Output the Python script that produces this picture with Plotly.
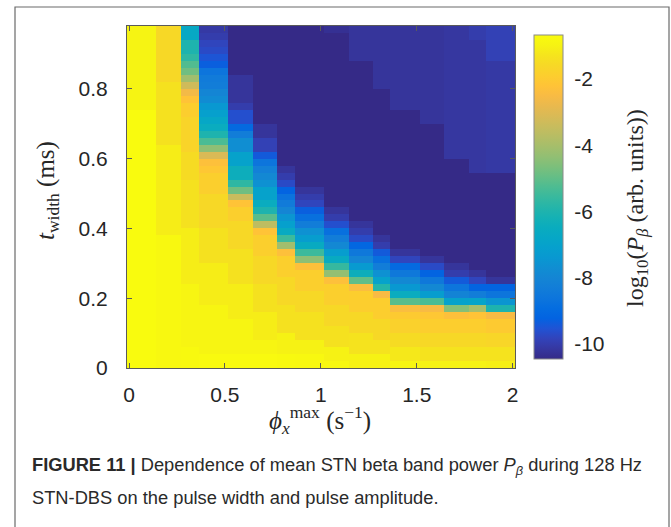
import plotly.graph_objects as go

# ---------------- data ----------------
# column edges of the grid (phi_x^max, s^-1) as drawn
phi_edges = [-0.0105, 0.143, 0.270, 0.364, 0.517, 0.645, 0.770, 0.866, 1.017,
             1.145, 1.270, 1.362, 1.519, 1.641, 1.772, 1.863, 2.012]
# row edges of the grid (t_width, ms)
twidth_edges = [round(0.02 * i, 2) for i in range(50)]

# log10(P_beta) per column, run-length encoded (rows, value), from top row to bottom row
c01 = [(12, -0.95), (37, -0.68)]
c02 = [(8, -1.6), (9, -1.35), (13, -1.1), (19, -0.8)]
c03 = [(2, -6.7), (2, -6.0), (1, -5.7), (1, -5.2), (1, -4.8), (1, -4.1), (1, -3.3), (1, -2.6),
       (1, -2.2), (2, -1.9), (5, -1.7), (4, -1.5), (7, -1.35), (8, -1.1), (9, -0.9), (3, -0.75)]
c04 = [(1, -10.1), (1, -10.0), (1, -9.8), (1, -9.7), (1, -9.5), (1, -9.3), (1, -8.6), (1, -8.4),
       (1, -8.3), (1, -8.0), (1, -7.8), (1, -7.4), (1, -7.1), (1, -6.8), (1, -6.5), (1, -6.0),
       (1, -5.3), (1, -4.4), (1, -3.1), (1, -2.3), (1, -2.1), (3, -1.85), (5, -1.6), (5, -1.35),
       (6, -1.1), (7, -0.9), (2, -0.72)]
c05 = [(7, -10.45), (4, -10.2), (1, -10.0), (2, -9.6), (1, -9.0), (1, -8.3), (2, -7.7), (2, -7.0),
       (2, -6.4), (1, -5.7), (1, -4.8), (1, -3.4), (1, -2.2), (2, -1.85), (4, -1.6), (5, -1.35),
       (5, -1.1), (5, -0.9), (2, -0.72)]
c06 = [(14, -10.45), (2, -10.2), (2, -9.9), (1, -9.4), (1, -8.6), (1, -8.2), (1, -7.9), (1, -7.6),
       (2, -7.0), (1, -6.5), (1, -6.0), (1, -5.1), (1, -3.6), (1, -2.2), (3, -1.85), (4, -1.6),
       (4, -1.35), (4, -1.1), (2, -0.9), (2, -0.72)]
c07 = [(20, -10.45), (1, -10.2), (1, -10.0), (1, -9.7), (1, -9.2), (1, -8.7), (1, -8.4), (1, -8.0),
       (1, -7.5), (1, -7.1), (1, -6.6), (1, -5.5), (1, -4.1), (1, -2.3), (3, -1.85), (4, -1.6),
       (4, -1.35), (3, -1.0), (2, -0.75)]
c08 = [(23, -10.45), (1, -10.2), (1, -10.0), (1, -9.8), (1, -9.3), (1, -8.8), (1, -8.3), (1, -7.6),
       (1, -7.2), (1, -6.6), (1, -5.5), (1, -4.4), (1, -2.3), (3, -1.85), (3, -1.6), (4, -1.35),
       (2, -1.0), (2, -0.78)]
c09 = [(1, -10.3), (25, -10.45), (1, -10.2), (1, -10.0), (1, -9.6), (1, -8.8), (1, -8.3), (1, -7.9),
       (1, -7.2), (1, -6.6), (1, -5.6), (1, -4.3), (1, -2.3), (3, -1.85), (3, -1.6), (3, -1.35),
       (2, -1.0), (1, -0.8)]
c10 = [(5, -10.2), (23, -10.45), (1, -10.2), (1, -10.0), (1, -9.7), (1, -9.1), (1, -8.5), (1, -8.0),
       (1, -7.3), (1, -6.4), (1, -5.0), (1, -2.4), (3, -1.9), (3, -1.6), (3, -1.3), (2, -1.0)]
c11 = [(9, -10.2), (21, -10.45), (1, -10.2), (1, -10.0), (1, -9.4), (1, -8.8), (1, -8.3), (1, -7.6),
       (1, -7.0), (1, -5.9), (1, -2.5), (3, -1.9), (3, -1.6), (2, -1.3), (2, -1.0)]
c12 = [(12, -10.2), (20, -10.45), (1, -10.2), (1, -9.8), (1, -9.0), (1, -8.5), (1, -7.9), (1, -7.4),
       (1, -6.5), (1, -5.1), (1, -2.4), (1, -2.0), (2, -1.8), (2, -1.5), (2, -1.2), (1, -0.9)]
c13 = [(14, -10.2), (19, -10.45), (1, -10.2), (1, -9.7), (1, -9.2), (1, -8.5), (1, -7.9), (1, -7.2),
       (1, -5.3), (1, -2.5), (1, -2.1), (2, -1.9), (2, -1.6), (2, -1.3), (1, -1.0)]
c14 = [(19, -10.15), (15, -10.45), (1, -10.2), (1, -10.0), (1, -9.4), (1, -8.6), (1, -8.1), (1, -7.0),
       (1, -4.5), (1, -2.3), (2, -1.9), (2, -1.6), (2, -1.3), (1, -1.0)]
c15 = [(2, -10.0), (19, -10.15), (14, -10.45), (1, -10.2), (1, -9.8), (1, -9.2), (1, -8.3), (1, -6.9),
       (1, -4.0), (1, -2.2), (2, -1.9), (2, -1.6), (2, -1.3), (1, -1.0)]
c16 = [(5, -9.9), (16, -10.1), (15, -10.45), (1, -10.2), (1, -9.2), (1, -8.6), (1, -7.5), (1, -6.0),
       (1, -2.5), (2, -2.0), (2, -1.65), (2, -1.3), (1, -1.05)]

x_ticks = [0, 0.5, 1, 1.5, 2]
x_ticktext = ["0", "0.5", "1", "1.5", "2"]
y_ticks = [0, 0.2, 0.4, 0.6, 0.8]
y_ticktext = ["0", "0.2", "0.4", "0.6", "0.8"]
cb_ticks = [-10, -8, -6, -4, -2]
cb_ticktext = ["-10", "-8", "-6", "-4", "-2"]
c_min, c_max = -10.45, -0.67

# ---------------- build grid ----------------
columns = [c01, c02, c03, c04, c05, c06, c07, c08, c09, c10, c11, c12, c13, c14, c15, c16]
nrows = len(twidth_edges) - 1


def expand(runs):
    vals = []
    for n, v in runs:
        vals += [v] * n
    assert len(vals) == nrows, len(vals)
    return vals[::-1]  # bottom -> top


cols = [expand(c) for c in columns]
z = [[cols[j][i] for j in range(len(cols))] for i in range(nrows)]

parula = [
    (0.2081, 0.1663, 0.5292), (0.2123, 0.2138, 0.6270), (0.1959, 0.2645, 0.7279),
    (0.1253, 0.3242, 0.8303), (0.0117, 0.3875, 0.8820), (0.0165, 0.4266, 0.8786),
    (0.0498, 0.4586, 0.8641), (0.0723, 0.4887, 0.8467), (0.0793, 0.5200, 0.8312),
    (0.0641, 0.5570, 0.8240), (0.0343, 0.5966, 0.8199), (0.0239, 0.6287, 0.8038),
    (0.0228, 0.6535, 0.7768), (0.0384, 0.6743, 0.7436), (0.0843, 0.6928, 0.7062),
    (0.1453, 0.7098, 0.6646), (0.2178, 0.7250, 0.6193), (0.3022, 0.7376, 0.5712),
    (0.3953, 0.7459, 0.5244), (0.4871, 0.7491, 0.4840), (0.5709, 0.7485, 0.4494),
    (0.6473, 0.7456, 0.4188), (0.7184, 0.7411, 0.3905), (0.7858, 0.7356, 0.3633),
    (0.8507, 0.7299, 0.3360), (0.9139, 0.7258, 0.3063), (0.9739, 0.7314, 0.2666),
    (0.9990, 0.7653, 0.2164), (0.9880, 0.8066, 0.1794), (0.9697, 0.8481, 0.1475),
    (0.9589, 0.8949, 0.1132), (0.9661, 0.9514, 0.0755), (0.9763, 0.9831, 0.0538),
]
n = len(parula) - 1
colorscale = [[i / n, "rgb(%d,%d,%d)" % tuple(round(c * 255) for c in rgb)]
              for i, rgb in enumerate(parula)]

# ---------------- layout geometry (pixels) ----------------
W, H = 671, 527
L, R, T, B = 127, 515, 26, 368
pw, ph = R - L, B - T


def px(xp):
    return (xp - L) / pw


def py(yp):
    return (B - yp) / ph


TICK_FONT = dict(family="Liberation Sans, Arial, sans-serif", size=21, color="#262626")
SERIF = "Liberation Serif, Times New Roman, serif"
TXT = "#262626"

fig = go.Figure()
fig.add_trace(go.Heatmap(
    x=phi_edges, y=twidth_edges, z=z,
    colorscale=colorscale, zmin=c_min, zmax=c_max,
    hoverongaps=False,
    colorbar=dict(
        x=px(534), xanchor="left", xpad=0,
        y=0.5, yanchor="middle", len=344 / ph, lenmode="fraction",
        thickness=29, thicknessmode="pixels",
        outlinecolor="#8a8a8a", outlinewidth=1,
        tickvals=cb_ticks, ticktext=cb_ticktext,
        ticks="outside", ticklen=7, tickcolor="rgba(0,0,0,0)",
        tickfont=TICK_FONT,
    ),
))

axis_common = dict(
    showline=True, linecolor="#5a5a5a", linewidth=1, mirror="ticks",
    ticks="inside", ticklen=5, tickcolor="#5a5a5a",
    showgrid=False, zeroline=False, tickfont=TICK_FONT,
)

fig.update_xaxes(
    range=[phi_edges[0], phi_edges[-1]],
    tickvals=x_ticks, ticktext=x_ticktext, ticklabelstandoff=8,
    **axis_common,
)
fig.update_yaxes(
    range=[0, 0.98],
    tickvals=y_ticks, ticktext=y_ticktext, ticklabelstandoff=14,
    **axis_common,
)

# axis titles (placed as annotations for exact positioning)
fig.add_annotation(
    x=px(320), y=py(420), xref="paper", yref="paper", xanchor="center", yanchor="middle",
    showarrow=False, font=dict(family=SERIF, size=25, color=TXT),
    text="<i>ϕ</i><sub><i>x</i></sub><sup>max</sup> (s<sup>−1</sup>)",
)
fig.add_annotation(
    x=px(48), y=py(191), xref="paper", yref="paper", xanchor="center", yanchor="middle",
    showarrow=False, textangle=-90, font=dict(family=SERIF, size=25, color=TXT),
    text="<i>t</i><sub>width</sub> (ms)",
)
fig.add_annotation(
    x=px(637), y=py(208), xref="paper", yref="paper", xanchor="center", yanchor="middle",
    showarrow=False, textangle=-90, font=dict(family=SERIF, size=24, color=TXT),
    text="log<sub>10</sub>(<i>P</i><sub><i>β</i></sub> (arb. units))",
)

CAP_FONT = dict(family="Liberation Sans, Arial, sans-serif", size=18.3, color="#2a2a2a")
fig.add_annotation(
    x=px(30), y=py(466), xref="paper", yref="paper", xanchor="left", yanchor="middle",
    showarrow=False, font=CAP_FONT,
    text="<b>FIGURE 11 |</b> Dependence of mean STN beta band power <i>P</i><sub><i>β</i></sub> during 128 Hz",
)
fig.add_annotation(
    x=px(30), y=py(497), xref="paper", yref="paper", xanchor="left", yanchor="middle",
    showarrow=False, font=CAP_FONT,
    text="STN-DBS on the pulse width and pulse amplitude.",
)

# figure frame
fig.add_shape(type="rect", xref="paper", yref="paper",
              x0=px(15), x1=px(669), y0=py(560), y1=py(7),
              line=dict(color="#6a6a6a", width=1.2), fillcolor="rgba(0,0,0,0)", layer="below")

fig.update_layout(
    width=W, height=H,
    margin=dict(l=L, r=W - R, t=T, b=H - B, pad=0),
    paper_bgcolor="white", plot_bgcolor="white",
    showlegend=False,
)

fig.write_html("out.html")
